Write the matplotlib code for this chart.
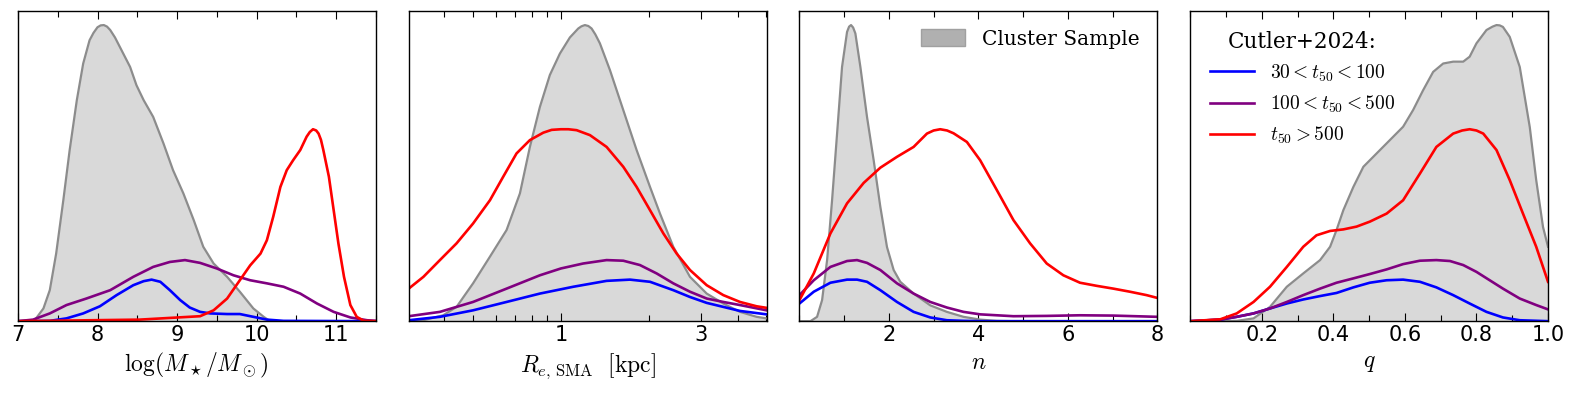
import numpy as np
import matplotlib.pyplot as plt
from matplotlib.patches import Patch

plt.rcParams['font.family'] = 'DejaVu Serif'
plt.rcParams['mathtext.fontset'] = 'cm'

# densities (scaled so the axis top = 1)
# panel 1: stellar mass
mass_gray_x = [7.0, 7.21, 7.32, 7.40, 7.48, 7.57, 7.65, 7.74, 7.82, 7.90, 7.95, 8.0, 8.04, 8.08, 8.12, 8.16, 8.22,
               8.28, 8.41, 8.49, 8.58, 8.70, 8.83, 8.95, 9.08, 9.21, 9.33, 9.46, 9.63, 9.79, 9.96, 10.09, 10.17, 11.5]
mass_gray_y = [0, 0.003, 0.041, 0.10, 0.218, 0.39, 0.552, 0.713, 0.831, 0.906, 0.93, 0.948, 0.954, 0.955, 0.95,
               0.939, 0.915, 0.885, 0.82, 0.761, 0.713, 0.659, 0.573, 0.487, 0.412, 0.326, 0.24, 0.186, 0.143, 0.095,
               0.041, 0.014, 0, 0]
mass_blue_x = [7.0, 7.40, 7.61, 7.82, 8.03, 8.24, 8.45, 8.58, 8.68, 8.79, 8.91, 9.04, 9.16, 9.29, 9.42,
               9.63, 9.79, 9.96, 10.13, 10.34, 11.5]
mass_blue_y = [0, 0.001, 0.009, 0.025, 0.048, 0.084, 0.116, 0.129, 0.134, 0.127, 0.10, 0.068, 0.044, 0.03, 0.025,
               0.023, 0.023, 0.014, 0.005, 0.001, 0]
mass_purple_x = [7.0, 7.19, 7.40, 7.61, 7.86, 8.16, 8.45, 8.70, 8.91, 9.10, 9.29, 9.50, 9.71, 9.92, 10.13,
                 10.34, 10.55, 10.76, 10.97, 11.18, 11.39, 11.5]
mass_purple_y = [0, 0.005, 0.025, 0.052, 0.073, 0.10, 0.143, 0.175, 0.191, 0.197, 0.188, 0.17, 0.148, 0.132, 0.122,
                 0.111, 0.089, 0.057, 0.03, 0.012, 0.003, 0.001]
mass_red_x = [7.0, 8.53, 9.29, 9.46, 9.63, 9.79, 9.92, 10.05, 10.13, 10.21, 10.30, 10.38, 10.46, 10.55, 10.63,
              10.67, 10.71, 10.75, 10.78, 10.81, 10.84, 10.91, 10.97, 11.03, 11.10, 11.18, 11.26, 11.35, 11.5]
mass_red_y = [0, 0.005, 0.016, 0.035, 0.073, 0.132, 0.18, 0.218, 0.261, 0.337, 0.433, 0.487, 0.519, 0.552, 0.595,
              0.61, 0.619, 0.615, 0.605, 0.585, 0.552, 0.466, 0.358, 0.25, 0.143, 0.052, 0.014, 0.001, 0]

# panel 2: effective radius [kpc]
re_gray_x = [0.303, 0.340, 0.397, 0.441, 0.502, 0.573, 0.653, 0.725, 0.784, 0.848, 0.917, 0.992, 1.073, 1.146, 1.175,
             1.207, 1.24, 1.272, 1.31, 1.358, 1.469, 1.631, 1.811, 2.012, 2.176, 2.415, 2.753, 3.139, 3.576, 4.076,
             4.645, 5.02]
re_gray_y = [0, 0.003, 0.019, 0.046, 0.122, 0.208, 0.294, 0.412, 0.562, 0.691, 0.794, 0.863, 0.915, 0.944, 0.951,
             0.955, 0.952, 0.944, 0.925, 0.896, 0.810, 0.681, 0.552, 0.433, 0.347, 0.240, 0.143, 0.089, 0.057, 0.030,
             0.014, 0.009]
re_blue_x = [0.303, 0.387, 0.502, 0.653, 0.848, 1.102, 1.431, 1.719, 2.012, 2.415, 2.753, 3.139, 3.576, 4.076, 5.02]
re_blue_y = [0.003, 0.014, 0.035, 0.062, 0.089, 0.111, 0.130, 0.134, 0.127, 0.100, 0.078, 0.059, 0.046, 0.033, 0.022]
re_purple_x = [0.303, 0.387, 0.502, 0.653, 0.848, 1.0, 1.191, 1.431, 1.631, 1.859, 2.119, 2.415, 2.753, 3.139,
               3.576, 4.076, 5.02]
re_purple_y = [0.016, 0.030, 0.062, 0.105, 0.148, 0.170, 0.186, 0.197, 0.195, 0.181, 0.154, 0.122, 0.095, 0.073,
               0.062, 0.052, 0.035]
re_red_x = [0.303, 0.340, 0.387, 0.441, 0.502, 0.573, 0.636, 0.706, 0.784, 0.871, 0.93, 1.0, 1.06, 1.131, 1.256,
            1.431, 1.631, 1.811, 2.012, 2.234, 2.480, 2.753, 3.139, 3.576, 4.076, 4.645, 5.02]
re_red_y = [0.105, 0.143, 0.197, 0.251, 0.315, 0.390, 0.466, 0.541, 0.584, 0.608, 0.617, 0.619, 0.619, 0.616, 0.600,
            0.562, 0.498, 0.433, 0.358, 0.283, 0.218, 0.165, 0.116, 0.084, 0.062, 0.048, 0.043]

# panel 3: Sersic index
n_gray_x = [0, 0.246, 0.394, 0.506, 0.618, 0.729, 0.841, 0.952, 1.064, 1.11, 1.153, 1.20, 1.25, 1.362, 1.51, 1.659,
            1.808, 1.957, 2.106, 2.254, 2.552, 2.924, 3.296, 3.668, 4.04, 4.412, 4.784, 8.0]
n_gray_y = [0, 0, 0.014, 0.068, 0.197, 0.39, 0.605, 0.82, 0.933, 0.95, 0.955, 0.947, 0.928, 0.82, 0.659, 0.519,
            0.369, 0.239, 0.165, 0.127, 0.089, 0.051, 0.030, 0.014, 0.005, 0.001, 0, 0]
n_blue_x = [0, 0.32, 0.692, 1.064, 1.287, 1.51, 1.808, 2.18, 2.552, 2.924, 3.296, 3.668, 4.04, 8.0]
n_blue_y = [0.057, 0.095, 0.124, 0.134, 0.134, 0.127, 0.100, 0.062, 0.030, 0.012, 0.003, 0.001, 0, 0]
n_purple_x = [0, 0.32, 0.692, 1.064, 1.287, 1.51, 1.808, 2.18, 2.552, 2.924, 3.296, 3.668, 4.04, 4.784, 5.528,
              6.272, 7.016, 8.0]
n_purple_y = [0.084, 0.132, 0.175, 0.194, 0.197, 0.188, 0.165, 0.122, 0.089, 0.062, 0.044, 0.030, 0.022, 0.016,
              0.017, 0.019, 0.018, 0.014]
n_red_x = [0, 0.32, 0.692, 1.064, 1.436, 1.808, 2.18, 2.552, 2.85, 3.0, 3.147, 3.3, 3.445, 3.743, 4.04, 4.412,
           4.784, 5.156, 5.528, 5.9, 6.272, 6.644, 7.016, 7.388, 7.76, 8.0]
n_red_y = [0.068, 0.154, 0.283, 0.380, 0.446, 0.495, 0.530, 0.562, 0.605, 0.615, 0.619, 0.615, 0.606, 0.578, 0.519,
           0.423, 0.326, 0.251, 0.186, 0.148, 0.124, 0.114, 0.105, 0.095, 0.084, 0.075]

# panel 4: axis ratio
q_gray_x = [0, 0.130, 0.177, 0.223, 0.270, 0.316, 0.363, 0.391, 0.409, 0.428, 0.456, 0.484, 0.521, 0.558, 0.595,
            0.623, 0.651, 0.679, 0.707, 0.735, 0.763, 0.781, 0.8, 0.828, 0.845, 0.856, 0.865, 0.874, 0.893, 0.921,
            0.949, 0.967, 0.986, 1.0]
q_gray_y = [0, 0.001, 0.009, 0.046, 0.111, 0.154, 0.197, 0.240, 0.294, 0.358, 0.433, 0.498, 0.541, 0.584, 0.627,
            0.681, 0.745, 0.804, 0.831, 0.837, 0.837, 0.853, 0.896, 0.939, 0.95, 0.955, 0.954, 0.949, 0.917, 0.820,
            0.626, 0.455, 0.304, 0.240]
q_blue_x = [0, 0.084, 0.130, 0.177, 0.223, 0.270, 0.316, 0.363, 0.409, 0.456, 0.502, 0.549, 0.595, 0.642, 0.688,
            0.735, 0.781, 0.828, 0.874, 0.921, 1.0]
q_blue_y = [0, 0.005, 0.014, 0.025, 0.041, 0.057, 0.070, 0.081, 0.091, 0.109, 0.124, 0.132, 0.134, 0.127, 0.109,
            0.084, 0.057, 0.030, 0.012, 0.003, 0]
q_purple_x = [0, 0.084, 0.130, 0.177, 0.223, 0.270, 0.316, 0.363, 0.409, 0.456, 0.502, 0.549, 0.595, 0.642, 0.688,
              0.726, 0.763, 0.8, 0.837, 0.874, 0.921, 0.967, 1.0]
q_purple_y = [0, 0.005, 0.014, 0.025, 0.041, 0.062, 0.084, 0.105, 0.124, 0.138, 0.152, 0.167, 0.184, 0.195, 0.197,
              0.194, 0.181, 0.159, 0.132, 0.105, 0.073, 0.052, 0.038]
q_red_x = [0, 0.084, 0.130, 0.177, 0.223, 0.270, 0.316, 0.353, 0.391, 0.428, 0.465, 0.502, 0.549, 0.595, 0.642,
           0.688, 0.735, 0.76, 0.781, 0.80, 0.819, 0.856, 0.893, 0.930, 0.967, 1.0]
q_red_y = [0, 0.006, 0.025, 0.062, 0.111, 0.175, 0.240, 0.277, 0.291, 0.296, 0.305, 0.321, 0.347, 0.390, 0.476,
           0.562, 0.605, 0.615, 0.619, 0.615, 0.605, 0.552, 0.455, 0.347, 0.240, 0.127]

labels = [r'$30 < t_{50} < 100$', r'$100 < t_{50} < 500$', r'$t_{50} > 500$']
colors = ['blue', 'purple', 'red']

panels = [
    (mass_gray_x, mass_gray_y, [(mass_blue_x, mass_blue_y), (mass_purple_x, mass_purple_y), (mass_red_x, mass_red_y)],
     r'$\log(M_\star/M_\odot)$', (7, 11.5), [7, 8, 9, 10, 11], ['7', '8', '9', '10', '11']),
    (re_gray_x, re_gray_y, [(re_blue_x, re_blue_y), (re_purple_x, re_purple_y), (re_red_x, re_red_y)],
     r'$R_{e,\,\mathrm{SMA}}\ \ [\mathrm{kpc}]$', (0.303, 5.02), [1, 3], ['1', '3']),
    (n_gray_x, n_gray_y, [(n_blue_x, n_blue_y), (n_purple_x, n_purple_y), (n_red_x, n_red_y)],
     r'$n$', (0, 8), [2, 4, 6, 8], ['2', '4', '6', '8']),
    (q_gray_x, q_gray_y, [(q_blue_x, q_blue_y), (q_purple_x, q_purple_y), (q_red_x, q_red_y)],
     r'$q$', (0, 1), [0.2, 0.4, 0.6, 0.8, 1.0], ['0.2', '0.4', '0.6', '0.8', '1.0']),
]
minor_ticks = [np.arange(7, 11.6, 0.5), [0.4, 0.5, 0.6, 0.7, 0.8, 0.9, 2, 4, 5],
               np.arange(0, 8.1, 1), np.arange(0, 1.01, 0.1)]

fig, axes = plt.subplots(1, 4, figsize=(15.78, 3.97), dpi=100)
fig.subplots_adjust(left=0.0114, right=0.981, top=0.972, bottom=0.191, wspace=0.092)

for i, (ax, (gx, gy, curves, xlabel, xlim, ticks, ticklabels)) in enumerate(zip(axes, panels)):
    ax.fill_between(gx, 0, gy, color='#d9d9d9', lw=0)
    ax.plot(gx, gy, color='#8c8c8c', lw=1.6, solid_joinstyle='round')
    lines = []
    for (cx, cy), c, lab in zip(curves, colors, labels):
        l, = ax.plot(cx, cy, color=c, lw=1.9, label=lab, solid_joinstyle='round')
        lines.append(l)
    if i == 1:
        ax.set_xscale('log')
    ax.set_xticks(ticks)
    ax.set_xticklabels(ticklabels, fontfamily='DejaVu Sans', fontsize=15)
    ax.set_xticks(minor_ticks[i], minor=True)
    ax.set_xticklabels([], minor=True)
    ax.set_xlim(*xlim)
    ax.set_ylim(0, 1)
    ax.set_yticks([])
    ax.tick_params(axis='x', which='both', direction='in', top=True, pad=3)
    ax.tick_params(axis='x', which='major', length=6, width=0.8)
    ax.tick_params(axis='x', which='minor', length=4, width=0.8)
    ax.set_xlabel(xlabel, fontsize=17, labelpad=4)
    for s in ax.spines.values():
        s.set_linewidth(1.0)

    if i == 2:
        h = Patch(facecolor='#b0b0b0', edgecolor='#a0a0a0', label='Cluster Sample')
        ax.legend(handles=[h], loc='upper right', frameon=False, fontsize=14.5,
                  handlelength=2.2, handleheight=0.9, handletextpad=0.8)
    if i == 3:
        ax.legend(handles=lines, loc='upper left', frameon=False, fontsize=14,
                  title='Cutler+2024:', title_fontsize=15.5, handlelength=2.3,
                  labelspacing=0.5, borderaxespad=0.6)

fig.savefig('out.png', dpi=100)
